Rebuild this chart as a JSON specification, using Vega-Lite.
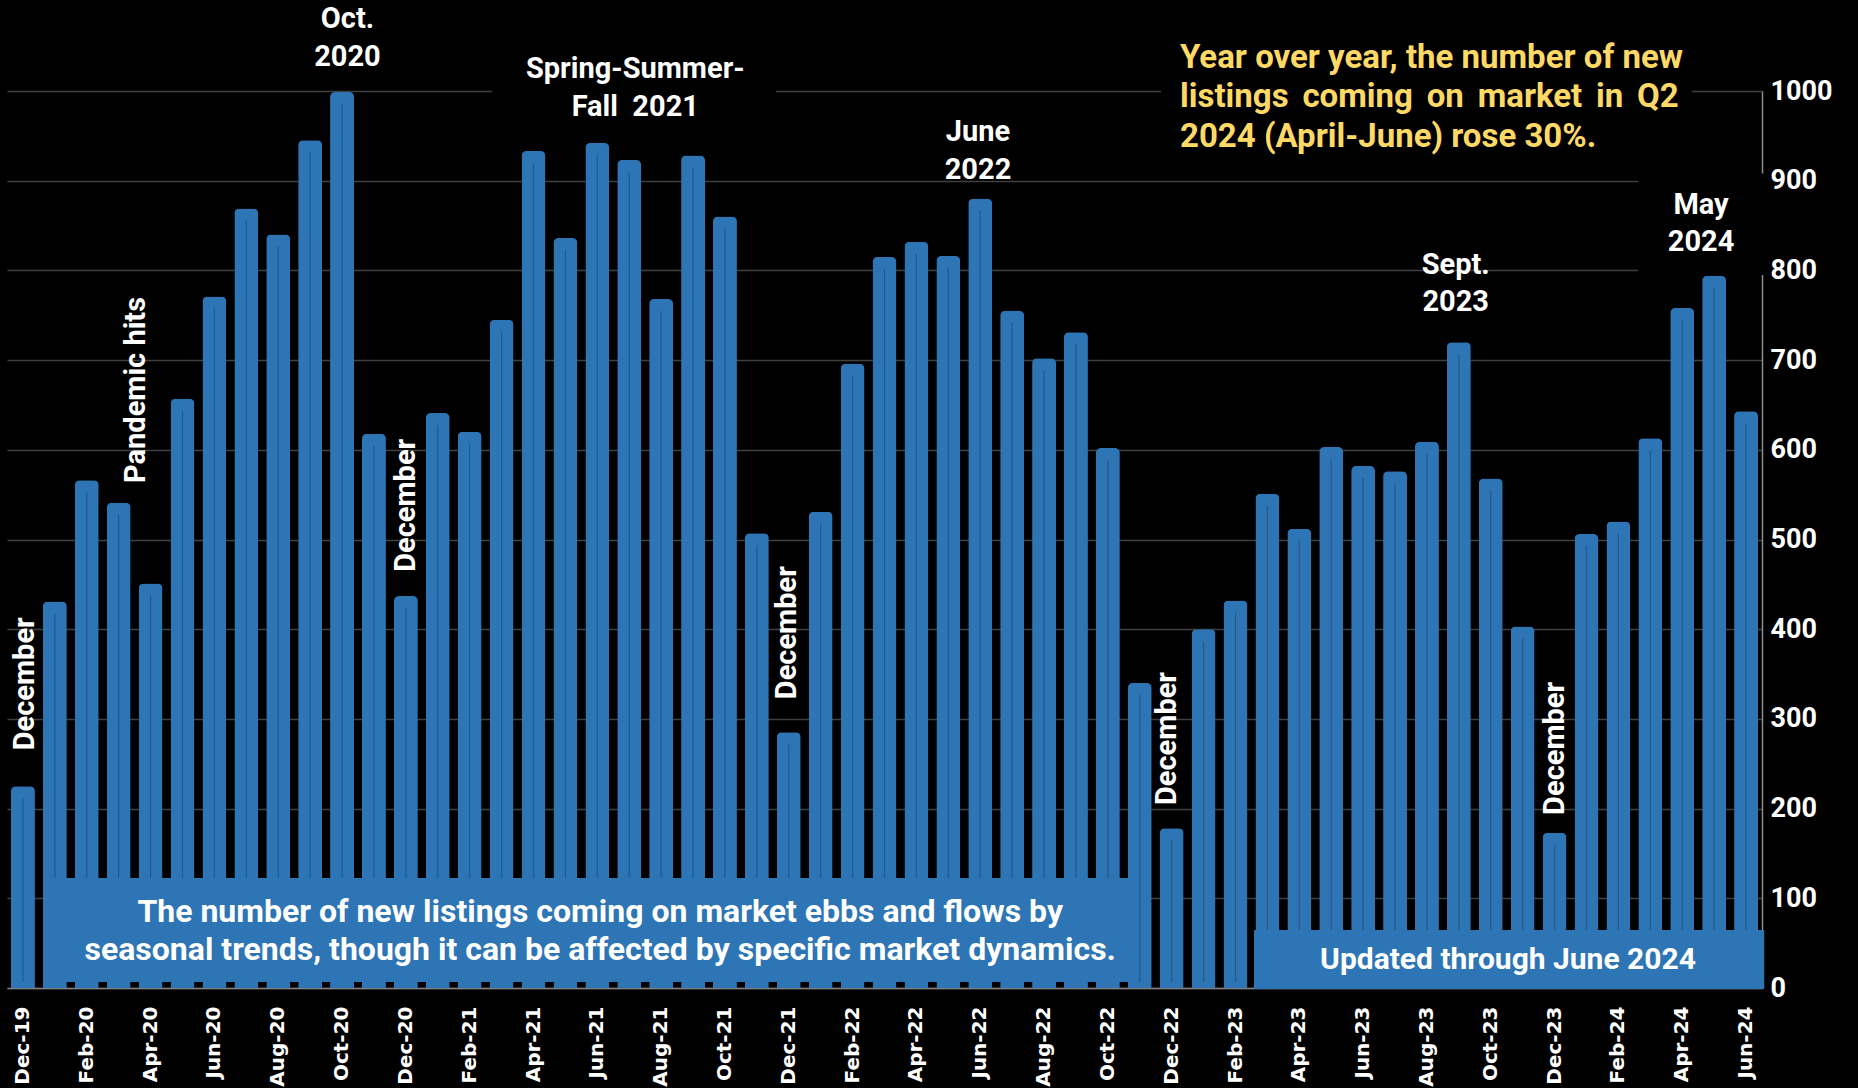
{
  "$schema": "https://vega.github.io/schema/vega-lite/v6.json",
  "width": 1755,
  "height": 897,
  "autosize": {"type": "none"},
  "padding": {"left": 7, "top": 91, "right": 96, "bottom": 100},
  "background": "black",
  "config": {"view": {"stroke": null}, "font": "Roboto"},
  "datasets": {
    "listings": [
      {"month": "Dec-19", "v": 225}, {"month": "Jan-20", "v": 431}, {"month": "Feb-20", "v": 566}, {"month": "Mar-20", "v": 541},
      {"month": "Apr-20", "v": 451}, {"month": "May-20", "v": 657}, {"month": "Jun-20", "v": 771}, {"month": "Jul-20", "v": 869},
      {"month": "Aug-20", "v": 840}, {"month": "Sep-20", "v": 945}, {"month": "Oct-20", "v": 999}, {"month": "Nov-20", "v": 618},
      {"month": "Dec-20", "v": 437}, {"month": "Jan-21", "v": 641}, {"month": "Feb-21", "v": 620}, {"month": "Mar-21", "v": 745},
      {"month": "Apr-21", "v": 933}, {"month": "May-21", "v": 836}, {"month": "Jun-21", "v": 942}, {"month": "Jul-21", "v": 923},
      {"month": "Aug-21", "v": 768}, {"month": "Sep-21", "v": 928}, {"month": "Oct-21", "v": 860}, {"month": "Nov-21", "v": 507},
      {"month": "Dec-21", "v": 285}, {"month": "Jan-22", "v": 531}, {"month": "Feb-22", "v": 696}, {"month": "Mar-22", "v": 815},
      {"month": "Apr-22", "v": 832}, {"month": "May-22", "v": 816}, {"month": "Jun-22", "v": 880}, {"month": "Jul-22", "v": 755},
      {"month": "Aug-22", "v": 702}, {"month": "Sep-22", "v": 731}, {"month": "Oct-22", "v": 602}, {"month": "Nov-22", "v": 340},
      {"month": "Dec-22", "v": 178}, {"month": "Jan-23", "v": 400}, {"month": "Feb-23", "v": 432}, {"month": "Mar-23", "v": 551},
      {"month": "Apr-23", "v": 512}, {"month": "May-23", "v": 603}, {"month": "Jun-23", "v": 582}, {"month": "Jul-23", "v": 576},
      {"month": "Aug-23", "v": 609}, {"month": "Sep-23", "v": 720}, {"month": "Oct-23", "v": 568}, {"month": "Nov-23", "v": 403},
      {"month": "Dec-23", "v": 173}, {"month": "Jan-24", "v": 506}, {"month": "Feb-24", "v": 520}, {"month": "Mar-24", "v": 613},
      {"month": "Apr-24", "v": 758}, {"month": "May-24", "v": 794}, {"month": "Jun-24", "v": 643}
    ],
    "boxes": [
      {"kind": "black", "x1": 14.7, "x2": 23.6, "y1": 955, "y2": 1055},
      {"kind": "black", "x1": 35.67, "x2": 52.31, "y1": 912, "y2": 1080},
      {"kind": "black", "x1": 50.62, "x2": 54.63, "y1": 795, "y2": 908},
      {"kind": "blue", "x1": 0.73, "x2": 34.79, "y1": 6.7, "y2": 122.6},
      {"kind": "blue", "x1": 38.58, "x2": 54.57, "y1": -1.1, "y2": 64.7}
    ],
    "notes": [
      {"kind": "h", "text": "Oct.", "x": 10.17, "y": 1080},
      {"kind": "h", "text": "2020", "x": 10.17, "y": 1038},
      {"kind": "h", "text": "Spring-Summer-", "x": 19.19, "y": 1024},
      {"kind": "h", "text": "Fall\u00a0 2021", "x": 19.19, "y": 982},
      {"kind": "h", "text": "June", "x": 29.93, "y": 954},
      {"kind": "h", "text": "2022", "x": 29.93, "y": 912},
      {"kind": "h", "text": "Sept.", "x": 44.9, "y": 806},
      {"kind": "h", "text": "2023", "x": 44.9, "y": 765},
      {"kind": "h", "text": "May", "x": 52.59, "y": 873},
      {"kind": "h", "text": "2024", "x": 52.59, "y": 832},
      {"kind": "v", "text": "December", "x": 0.07, "y": 265},
      {"kind": "v", "text": "December", "x": 12.0, "y": 464},
      {"kind": "v", "text": "December", "x": 23.95, "y": 322},
      {"kind": "v", "text": "December", "x": 35.86, "y": 204},
      {"kind": "v", "text": "December", "x": 48.02, "y": 193},
      {"kind": "v", "text": "Pandemic hits", "x": 3.55, "y": 563},
      {"kind": "y", "text": "Year over year, the number of new", "x": 36.26, "y": 1037},
      {"kind": "y", "text": "listings\u2006 coming\u2006 on\u2006 market\u2006 in\u2006 Q2", "x": 36.26, "y": 993},
      {"kind": "y", "text": "2024 (April-June) rose 30%.", "x": 36.26, "y": 949},
      {"kind": "b", "text": "The number of new listings coming on market ebbs and flows by", "x": 18.09, "y": 84.7},
      {"kind": "b", "text": "seasonal trends, though it can be affected by specific market dynamics.", "x": 18.09, "y": 42.4},
      {"kind": "u", "text": "Updated through June 2024", "x": 46.54, "y": 31.2}
    ]
  },
  "layer": [
    {
      "data": {"name": "listings"},
      "encoding": {
        "x": {
          "field": "month", "type": "nominal", "sort": null,
          "scale": {"paddingInner": 0.25, "paddingOuter": 0.125},
          "axis": {
            "title": null, "labelAngle": -90, "labelColor": "white", "labelFont": "DejaVu Sans",
            "labelFontWeight": "bold", "labelFontSize": 20, "labelPadding": 18, "ticks": false,
            "domainColor": "#808080", "domainWidth": 1.5, "grid": false,
            "values": ["Dec-19","Feb-20","Apr-20","Jun-20","Aug-20","Oct-20","Dec-20","Feb-21","Apr-21","Jun-21","Aug-21","Oct-21","Dec-21","Feb-22","Apr-22","Jun-22","Aug-22","Oct-22","Dec-22","Feb-23","Apr-23","Jun-23","Aug-23","Oct-23","Dec-23","Feb-24","Apr-24","Jun-24"]
          }
        },
        "y": {
          "field": "v", "type": "quantitative",
          "scale": {"domain": [0, 1000], "nice": false, "zero": false},
          "axis": {
            "title": null, "orient": "right", "values": [0,100,200,300,400,500,600,700,800,900,1000], "format": "d",
            "labelColor": "white", "labelFont": "Roboto", "labelFontWeight": "bold", "labelFontSize": 27,
            "labelPadding": 8, "ticks": false, "domainColor": "#8c8c8c", "domainWidth": 1.5,
            "grid": true, "gridColor": "#404040", "gridWidth": 1.5
          }
        }
      },
      "layer": [
        {"mark": {"type": "bar", "color": "#2E75B6", "cornerRadiusTopLeft": 5, "cornerRadiusTopRight": 5}},
        {"mark": {"type": "rule", "color": "#24598A", "strokeWidth": 1.2, "yOffset": 12, "y2Offset": -6},
         "encoding": {"y2": {"datum": 0}}}
      ]
    },
    {
      "layer": [
        {
          "data": {"name": "boxes"},
          "mark": {"type": "rect"},
          "encoding": {
            "x": {"field": "x1", "type": "quantitative", "scale": {"domain": [-0.5, 54.5], "nice": false, "zero": false}, "axis": null},
            "x2": {"field": "x2"},
            "y": {"field": "y1", "type": "quantitative", "scale": {"domain": [0, 1000], "nice": false, "zero": false}, "axis": null},
            "y2": {"field": "y2"},
            "color": {"field": "kind", "type": "nominal", "scale": {"domain": ["black", "blue"], "range": ["#000000", "#2E75B6"]}, "legend": null}
          }
        },
        {
          "data": {"name": "notes"},
          "transform": [{"filter": "datum.kind === 'h'"}],
          "mark": {"type": "text", "color": "white", "font": "Roboto", "fontWeight": "bold", "fontSize": 29, "align": "center", "baseline": "middle"},
          "encoding": {
            "x": {"field": "x", "type": "quantitative", "scale": {"domain": [-0.5, 54.5], "nice": false, "zero": false}, "axis": null},
            "y": {"field": "y", "type": "quantitative", "scale": {"domain": [0, 1000], "nice": false, "zero": false}, "axis": null},
            "text": {"field": "text"}
          }
        },
        {
          "data": {"name": "notes"},
          "transform": [{"filter": "datum.kind === 'v'"}],
          "mark": {"type": "text", "color": "white", "font": "Roboto", "fontWeight": "bold", "fontSize": 29, "align": "left", "baseline": "middle", "angle": 270},
          "encoding": {
            "x": {"field": "x", "type": "quantitative", "scale": {"domain": [-0.5, 54.5], "nice": false, "zero": false}, "axis": null},
            "y": {"field": "y", "type": "quantitative", "scale": {"domain": [0, 1000], "nice": false, "zero": false}, "axis": null},
            "text": {"field": "text"}
          }
        },
        {
          "data": {"name": "notes"},
          "transform": [{"filter": "datum.kind === 'y'"}],
          "mark": {"type": "text", "color": "#FFD966", "font": "Roboto", "fontWeight": "bold", "fontSize": 33, "align": "left", "baseline": "middle"},
          "encoding": {
            "x": {"field": "x", "type": "quantitative", "scale": {"domain": [-0.5, 54.5], "nice": false, "zero": false}, "axis": null},
            "y": {"field": "y", "type": "quantitative", "scale": {"domain": [0, 1000], "nice": false, "zero": false}, "axis": null},
            "text": {"field": "text"}
          }
        },
        {
          "data": {"name": "notes"},
          "transform": [{"filter": "datum.kind === 'b'"}],
          "mark": {"type": "text", "color": "white", "font": "Roboto", "fontWeight": "bold", "fontSize": 32, "align": "center", "baseline": "middle"},
          "encoding": {
            "x": {"field": "x", "type": "quantitative", "scale": {"domain": [-0.5, 54.5], "nice": false, "zero": false}, "axis": null},
            "y": {"field": "y", "type": "quantitative", "scale": {"domain": [0, 1000], "nice": false, "zero": false}, "axis": null},
            "text": {"field": "text"}
          }
        },
        {
          "data": {"name": "notes"},
          "transform": [{"filter": "datum.kind === 'u'"}],
          "mark": {"type": "text", "color": "white", "font": "Roboto", "fontWeight": "bold", "fontSize": 30, "align": "center", "baseline": "middle"},
          "encoding": {
            "x": {"field": "x", "type": "quantitative", "scale": {"domain": [-0.5, 54.5], "nice": false, "zero": false}, "axis": null},
            "y": {"field": "y", "type": "quantitative", "scale": {"domain": [0, 1000], "nice": false, "zero": false}, "axis": null},
            "text": {"field": "text"}
          }
        }
      ]
    }
  ],
  "resolve": {"scale": {"x": "independent", "y": "independent"}}
}
